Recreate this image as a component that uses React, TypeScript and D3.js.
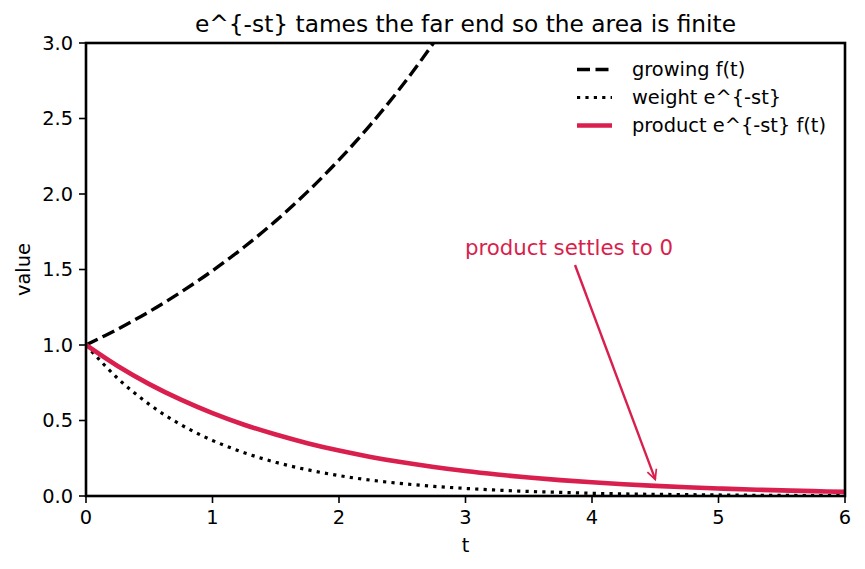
import { useRef, useEffect } from 'react';
import * as d3 from 'd3';

// sample times, step 0.25
const tGrid = [0, 0.25, 0.5, 0.75, 1, 1.25, 1.5, 1.75, 2, 2.25, 2.5, 2.75, 3, 3.25, 3.5, 3.75, 4, 4.25, 4.5, 4.75, 5, 5.25, 5.5, 5.75, 6];
const growingVals = [1.0, 1.105, 1.221, 1.35, 1.492, 1.649, 1.822, 2.014, 2.226, 2.46, 2.718, 3.004, 3.32];
const weightVals = [1.0, 0.779, 0.607, 0.472, 0.368, 0.287, 0.223, 0.174, 0.135, 0.105, 0.082, 0.064, 0.05, 0.039, 0.03, 0.024, 0.018, 0.014, 0.011, 0.009, 0.007, 0.005, 0.004, 0.003, 0.0025];
const productVals = [1.0, 0.861, 0.741, 0.638, 0.549, 0.472, 0.407, 0.35, 0.301, 0.259, 0.223, 0.192, 0.165, 0.142, 0.122, 0.105, 0.091, 0.078, 0.067, 0.058, 0.05, 0.043, 0.037, 0.032, 0.027];

const xTicks = [0, 1, 2, 3, 4, 5, 6];
const yTicks = [0, 0.5, 1.0, 1.5, 2.0, 2.5, 3.0];
const RED = '#d81f4d';
const legendItems = [
  { label: 'growing f(t)', dash: '13,5.5', width: 3.4, color: '#000' },
  { label: 'weight e^{-st}', dash: '3.2,5.2', width: 3.2, color: '#000' },
  { label: 'product e^{-st} f(t)', dash: null, width: 4.6, color: RED },
];

const App = () => {
  const ref = useRef(null);

  useEffect(() => {
    d3.select(ref.current).selectAll('*').remove();
    const svg = d3.select(ref.current);
    const left = 86, right = 845, top = 43, bottom = 496;
    const font = 'DejaVu Sans, sans-serif';
    const fs = 19.4;

    const x = d3.scaleLinear().domain([0, 6]).range([left, right]);
    const y = d3.scaleLinear().domain([0, 3]).range([bottom, top]);

    svg.append('clipPath').attr('id', 'plotclip')
      .append('rect').attr('x', left).attr('y', top).attr('width', right - left).attr('height', bottom - top);

    const line = d3.line<[number, number]>()
      .x(d => x(d[0])).y(d => y(d[1]))
      .curve(d3.curveCatmullRom);

    const g = svg.append('g').attr('clip-path', 'url(#plotclip)');

    g.append('path')
      .attr('d', line(growingVals.map((v, i) => [tGrid[i], v])))
      .attr('fill', 'none').attr('stroke', '#000').attr('stroke-width', legendItems[0].width)
      .attr('stroke-dasharray', legendItems[0].dash);

    g.append('path')
      .attr('d', line(weightVals.map((v, i) => [tGrid[i], v])))
      .attr('fill', 'none').attr('stroke', '#000').attr('stroke-width', legendItems[1].width)
      .attr('stroke-dasharray', legendItems[1].dash);

    g.append('path')
      .attr('d', line(productVals.map((v, i) => [tGrid[i], v])))
      .attr('fill', 'none').attr('stroke', RED).attr('stroke-width', legendItems[2].width);

    // axes frame
    svg.append('rect')
      .attr('x', left).attr('y', top).attr('width', right - left).attr('height', bottom - top)
      .attr('fill', 'none').attr('stroke', '#000').attr('stroke-width', 2.6);

    const xAxis = svg.append('g');
    xTicks.forEach(t => {
      xAxis.append('line').attr('x1', x(t)).attr('x2', x(t)).attr('y1', bottom).attr('y2', bottom + 7)
        .attr('stroke', '#000').attr('stroke-width', 1.6);
      xAxis.append('text').attr('x', x(t)).attr('y', 524).attr('text-anchor', 'middle')
        .attr('font-family', font).attr('font-size', fs).text(d3.format('d')(t));
    });
    const yAxis = svg.append('g');
    yTicks.forEach(t => {
      yAxis.append('line').attr('x1', left - 7).attr('x2', left).attr('y1', y(t)).attr('y2', y(t))
        .attr('stroke', '#000').attr('stroke-width', 1.6);
      yAxis.append('text').attr('x', left - 13).attr('y', y(t)).attr('dy', '0.36em').attr('text-anchor', 'end')
        .attr('font-family', font).attr('font-size', fs).text(d3.format('.1f')(t));
    });

    svg.append('text').attr('x', (left + right) / 2).attr('y', 552).attr('text-anchor', 'middle')
      .attr('font-family', font).attr('font-size', fs).text('t');
    svg.append('text').attr('transform', `translate(30,${(top + bottom) / 2}) rotate(-90)`)
      .attr('text-anchor', 'middle').attr('font-family', font).attr('font-size', fs).text('value');

    svg.append('text').attr('x', (left + right) / 2).attr('y', 32).attr('text-anchor', 'middle')
      .attr('font-family', font).attr('font-size', 23.3).text('e^{-st} tames the far end so the area is finite');

    // legend
    const lg = svg.append('g');
    legendItems.forEach((it, i) => {
      const ly = 69.5 + i * 28;
      const l = lg.append('line').attr('x1', 577).attr('x2', 612).attr('y1', ly).attr('y2', ly)
        .attr('stroke', it.color).attr('stroke-width', it.width);
      if (it.dash) l.attr('stroke-dasharray', it.dash);
      lg.append('text').attr('x', 632).attr('y', ly).attr('dy', '0.36em')
        .attr('font-family', font).attr('font-size', fs).text(it.label);
    });

    // annotation
    svg.append('defs').append('marker').attr('id', 'arrowhead')
      .attr('viewBox', '0 0 10 10').attr('refX', 9).attr('refY', 5)
      .attr('markerWidth', 5).attr('markerHeight', 5).attr('orient', 'auto')
      .attr('markerUnits', 'strokeWidth')
      .append('path').attr('d', 'M1,1 L9,5 L1,9').attr('fill', 'none').attr('stroke', RED).attr('stroke-width', 1.4);
    svg.append('text').attr('x', 569).attr('y', 255).attr('text-anchor', 'middle')
      .attr('fill', RED).attr('font-family', font).attr('font-size', 21.3).text('product settles to 0');
    svg.append('line')
      .attr('x1', 575).attr('y1', 265).attr('x2', x(4.5)).attr('y2', y(0.11))
      .attr('stroke', RED).attr('stroke-width', 2.4).attr('marker-end', 'url(#arrowhead)');
  }, []);

  return <svg ref={ref} width={865} height={569} style={{ display: 'block', position: 'absolute', left: 0, top: 0, background: '#fff' }} />;
};

export default App;
